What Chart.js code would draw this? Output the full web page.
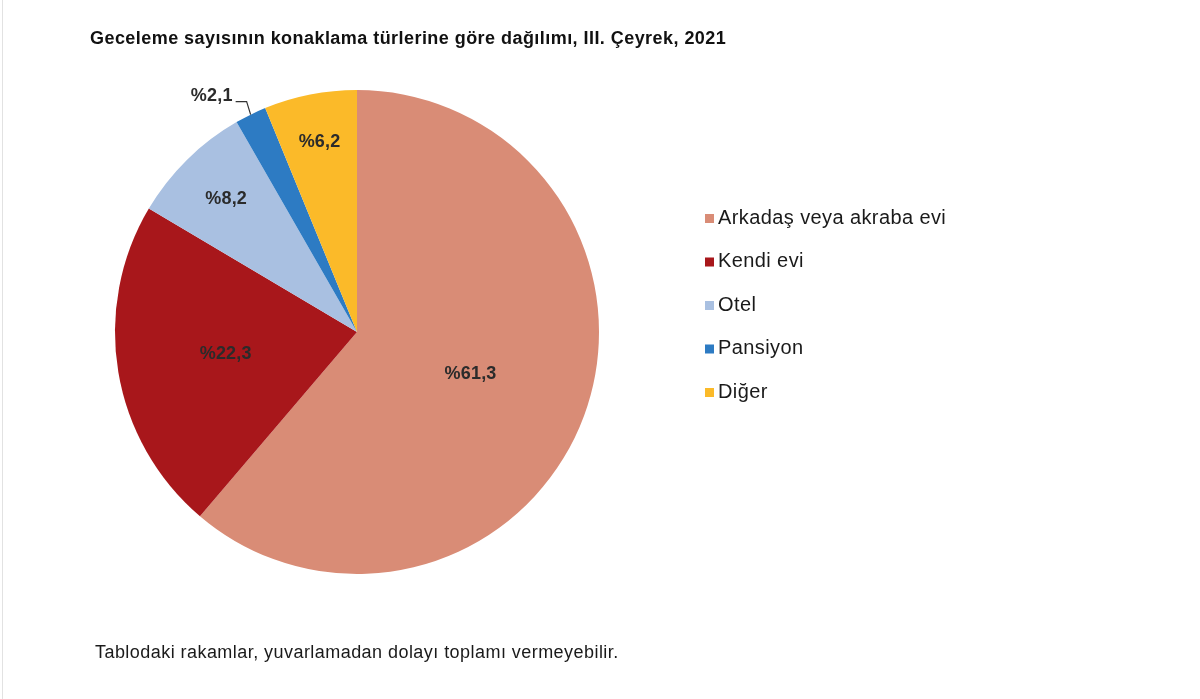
<!DOCTYPE html>
<html>
<head>
<meta charset="utf-8">
<script src="https://cdn.jsdelivr.net/npm/chart.js@4/dist/chart.umd.min.js"></script>
<style>
  html, body { margin: 0; padding: 0; background: #fff; }
  #wrap { position: relative; width: 1200px; height: 699px; }
  #wrap::before { content: ""; position: absolute; left: 2px; top: 0; width: 1px; height: 699px; background: #e2e2e2; }
  canvas { display: block; }
</style>
</head>
<body>
<div id="wrap"><canvas id="chart" width="1200" height="699"></canvas></div>
<script>
const titleText = "Geceleme sayısının konaklama türlerine göre dağılımı, III. Çeyrek, 2021";
const noteText = "Tablodaki rakamlar, yuvarlamadan dolayı toplamı vermeyebilir.";
const categories = ["Arkadaş veya akraba evi", "Kendi evi", "Otel", "Pansiyon", "Diğer"];
const shares = [61.3, 22.3, 8.2, 2.1, 6.2];
const colors = ["#D98C76", "#A8171B", "#A9C0E1", "#2D7BC3", "#FBBA29"];

// label distance from centre, as fraction of radius (null = outside with leader)
const labelRadius = [0.5, 0.55, 0.77, null, 0.8];

function pct(v) {
  return "%" + v.toFixed(1).replace(".", ",");
}

const extras = {
  id: "extras",
  afterDraw(chart) {
    const ctx = chart.ctx;
    const meta = chart.getDatasetMeta(0);
    ctx.save();

    // title
    ctx.fillStyle = "#111";
    ctx.font = "bold 18px 'Liberation Sans', Arial, sans-serif";
    ctx.letterSpacing = "0.45px";
    ctx.textAlign = "left";
    ctx.textBaseline = "middle";
    ctx.fillText(titleText, 90, 39);

    // slice labels
    ctx.font = "bold 18px 'Liberation Sans', Arial, sans-serif";
    ctx.letterSpacing = "0.2px";
    ctx.fillStyle = "#2b2b2b";
    ctx.textAlign = "center";
    meta.data.forEach((arc, i) => {
      const p = arc.getProps(["x", "y", "startAngle", "endAngle", "outerRadius"], true);
      const mid = (p.startAngle + p.endAngle) / 2;
      const f = labelRadius[i];
      if (f !== null) {
        const r = p.outerRadius * f;
        ctx.fillText(pct(shares[i]), p.x + Math.cos(mid) * r, p.y + Math.sin(mid) * r);
      } else {
        const ex = p.x + Math.cos(mid) * p.outerRadius;
        const ey = p.y + Math.sin(mid) * p.outerRadius;
        ctx.strokeStyle = "#333";
        ctx.lineWidth = 1.2;
        ctx.beginPath();
        ctx.moveTo(ex, ey);
        ctx.lineTo(ex - 4, ey - 13);
        ctx.lineTo(ex - 15, ey - 13);
        ctx.stroke();
        ctx.textAlign = "right";
        ctx.fillText(pct(shares[i]), ex - 18, ey - 19);
        ctx.textAlign = "center";
      }
    });

    // legend
    ctx.font = "20px 'Liberation Sans', Arial, sans-serif";
    ctx.letterSpacing = "0.4px";
    ctx.textAlign = "left";
    categories.forEach((name, i) => {
      const y = 218 + i * 43.5;
      ctx.fillStyle = colors[i];
      ctx.fillRect(705, y - 4, 9, 9);
      ctx.fillStyle = "#1a1a1a";
      ctx.fillText(name, 718, y);
    });

    // footnote
    ctx.font = "18px 'Liberation Sans', Arial, sans-serif";
    ctx.letterSpacing = "0.45px";
    ctx.fillStyle = "#1a1a1a";
    ctx.fillText(noteText, 95, 653);
    ctx.restore();
  }
};

new Chart(document.getElementById("chart"), {
  type: "pie",
  data: {
    labels: categories,
    datasets: [{
      data: shares,
      backgroundColor: colors,
      borderWidth: 0
    }]
  },
  options: {
    responsive: false,
    animation: false,
    layout: { padding: { left: 115, top: 90, right: 601, bottom: 125 } },
    plugins: {
      legend: { display: false },
      tooltip: { enabled: false }
    }
  },
  plugins: [extras]
});
</script>
</body>
</html>
